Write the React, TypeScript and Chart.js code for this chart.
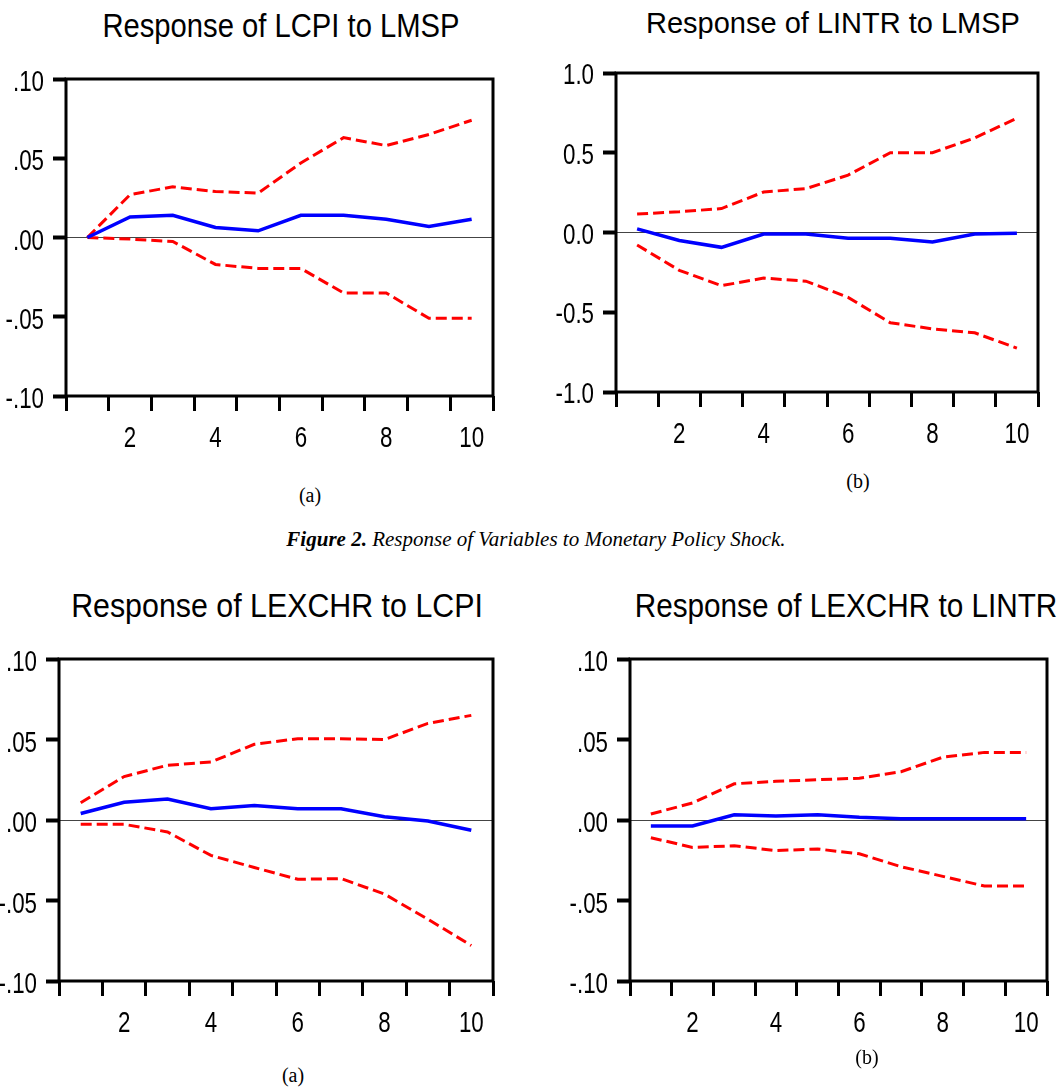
import React, { useEffect, useRef } from 'react';
import { Chart, registerables } from 'chart.js';

Chart.register(...registerables);

// ---------- data ----------
const periods = [1, 2, 3, 4, 5, 6, 7, 8, 9, 10];
const xTickLabels = ['2', '4', '6', '8', '10'];
const yTicksSmall = ['.10', '.05', '.00', '-.05', '-.10'];
const yTicksLarge = ['1.0', '0.5', '0.0', '-0.5', '-1.0'];

// Response of LCPI to LMSP
const lcpiLmspResp = [0, 0.013, 0.014, 0.0063, 0.0042, 0.014, 0.014, 0.0115, 0.007, 0.0115];
const lcpiLmspUpper = [0, 0.027, 0.032, 0.029, 0.028, 0.047, 0.063, 0.058, 0.065, 0.074];
const lcpiLmspLower = [0, -0.001, -0.0025, -0.017, -0.0195, -0.0195, -0.035, -0.035, -0.051, -0.051];

// Response of LINTR to LMSP
const lintrLmspResp = [0.023, -0.05, -0.093, -0.01, -0.01, -0.036, -0.036, -0.06, -0.01, -0.005];
const lintrLmspUpper = [0.116, 0.13, 0.15, 0.254, 0.275, 0.36, 0.5, 0.5, 0.593, 0.716];
const lintrLmspLower = [-0.078, -0.237, -0.333, -0.286, -0.305, -0.407, -0.566, -0.604, -0.629, -0.725];

// Response of LEXCHR to LCPI
const lexchrLcpiResp = [0.004, 0.011, 0.013, 0.007, 0.009, 0.007, 0.007, 0.002, -0.0006, -0.0064];
const lexchrLcpiUpper = [0.0107, 0.027, 0.034, 0.036, 0.047, 0.0505, 0.0505, 0.05, 0.06, 0.065];
const lexchrLcpiLower = [-0.0027, -0.0027, -0.0074, -0.022, -0.0295, -0.0368, -0.0364, -0.046, -0.0616, -0.078];

// Response of LEXCHR to LINTR
const lexchrLintrResp = [-0.0037, -0.0037, 0.0033, 0.0025, 0.0033, 0.0017, 0.0008, 0.0008, 0.0008, 0.0008];
const lexchrLintrUpper = [0.0037, 0.0106, 0.0225, 0.024, 0.025, 0.026, 0.03, 0.039, 0.042, 0.042];
const lexchrLintrLower = [-0.011, -0.017, -0.016, -0.019, -0.018, -0.021, -0.029, -0.035, -0.041, -0.041];

const titles = [
  'Response of LCPI to LMSP',
  'Response of LINTR to LMSP',
  'Response of LEXCHR to LCPI',
  'Response of LEXCHR to LINTR',
];

// ---------- styling ----------
const SANS = '"Liberation Sans", Arial, sans-serif';
const SERIF = '"Liberation Serif", "Times New Roman", serif';
const TICK_SIZE = 29;
const TICK_SX = 0.77;
const X_TICK_LEN = 15;
const X_TICK_PAD = 13;
const Y_TICK_LEN = 13;
const Y_TICK_PAD = 9;

const framePlugin = {
  id: 'frame',
  afterDatasetsDraw(chart: any) {
    const { ctx, chartArea } = chart;
    ctx.save();
    ctx.strokeStyle = '#000';
    ctx.lineWidth = 3;
    ctx.strokeRect(chartArea.left, chartArea.top, chartArea.right - chartArea.left, chartArea.bottom - chartArea.top);
    ctx.restore();
  },
};

// draws the tick labels horizontally condensed (the original uses a narrow face)
const condensedTicksPlugin = {
  id: 'condensedTicks',
  afterDraw(chart: any, _args: any, opts: any) {
    const { ctx, chartArea } = chart;
    ctx.save();
    ctx.fillStyle = '#000';
    ctx.font = `${TICK_SIZE}px ${SANS}`;
    const xs = chart.scales.x;
    ctx.textAlign = 'center';
    ctx.textBaseline = 'middle';
    xs.ticks.forEach((t: any, i: number) => {
      if (!t.label) return;
      const px = xs.getPixelForTick(i);
      const py = chartArea.bottom + X_TICK_LEN + X_TICK_PAD + TICK_SIZE / 2;
      ctx.save();
      ctx.translate(px, py);
      ctx.scale(TICK_SX, 1);
      ctx.fillText(String(t.label), 0, 0);
      ctx.restore();
    });
    const ys = chart.scales.y;
    ctx.textAlign = 'right';
    ys.ticks.forEach((t: any, i: number) => {
      if (!t.label) return;
      const py = ys.getPixelForTick(i) + (opts.labelOffset || 0);
      const px = chartArea.left - Y_TICK_LEN - Y_TICK_PAD;
      ctx.save();
      ctx.translate(px, py);
      ctx.scale(TICK_SX, 1);
      ctx.fillText(String(t.label), 0, 0);
      ctx.restore();
    });
    ctx.restore();
  },
};

type PanelProps = {
  left: number; top: number; width: number; height: number;
  frame: { l: number; t: number; r: number; b: number };
  resp: number[]; upper: number[]; lower: number[];
  yMax: number; yStep: number; yLabels: string[]; labelOffset: number;
};

function Panel(p: PanelProps) {
  const ref = useRef<HTMLCanvasElement>(null);
  useEffect(() => {
    const yAxisW = p.frame.l - p.left;
    const padTop = p.frame.t - p.top;
    const padRight = p.left + p.width - p.frame.r;
    const xAxisH = p.top + p.height - p.frame.b;
    const tickFont = { family: SANS, size: 20, lineHeight: 1 };
    const mk = (arr: number[]) => periods.map((x, i) => ({ x, y: arr[i] }));
    const chart = new Chart(ref.current as HTMLCanvasElement, {
      type: 'line',
      data: {
        datasets: [
          { data: mk(p.resp), borderColor: '#0000ff', borderWidth: 3.5, pointRadius: 0, tension: 0, fill: false },
          { data: mk(p.upper), borderColor: '#ff0000', borderWidth: 3, borderDash: [11, 5], pointRadius: 0, tension: 0, fill: false },
          { data: mk(p.lower), borderColor: '#ff0000', borderWidth: 3, borderDash: [11, 5], pointRadius: 0, tension: 0, fill: false },
        ],
      },
      options: {
        responsive: false,
        animation: false,
        layout: { padding: { top: padTop, right: padRight, left: 0, bottom: 0 } },
        plugins: {
          legend: { display: false },
          tooltip: { enabled: false },
          condensedTicks: { labelOffset: p.labelOffset },
        },
        scales: {
          x: {
            type: 'linear',
            min: 0.5,
            max: 10.5,
            afterFit: (s: any) => { s.height = xAxisH; },
            ticks: {
              stepSize: 0.5,
              autoSkip: false,
              maxRotation: 0,
              minRotation: 0,
              color: 'rgba(0,0,0,0)',
              font: tickFont,
              padding: X_TICK_PAD,
              callback: (v: any) => {
                const n = Number(v);
                if (Math.abs(n - Math.round(n)) > 1e-6) return '';
                const s = String(Math.round(n));
                return xTickLabels.includes(s) ? s : '';
              },
            },
            grid: {
              drawOnChartArea: false,
              drawTicks: true,
              tickLength: X_TICK_LEN,
              tickWidth: 3,
              tickColor: (c: any) => {
                const v = c.tick ? c.tick.value : 0;
                return Math.abs(v - Math.round(v)) > 0.25 ? '#000' : 'rgba(0,0,0,0)';
              },
            },
            border: { display: false },
          },
          y: {
            min: -p.yMax,
            max: p.yMax,
            afterFit: (s: any) => { s.width = yAxisW; },
            ticks: {
              stepSize: p.yStep,
              color: 'rgba(0,0,0,0)',
              font: tickFont,
              padding: Y_TICK_PAD,
              callback: (_v: any, i: number, ticks: any[]) => p.yLabels[ticks.length - 1 - i] ?? '',
            },
            grid: {
              drawOnChartArea: true,
              color: (c: any) => (c.tick && Math.abs(c.tick.value) < 1e-9 ? '#444' : 'rgba(0,0,0,0)'),
              lineWidth: 1,
              drawTicks: true,
              tickLength: Y_TICK_LEN,
              tickWidth: 4,
              tickColor: '#000',
            },
            border: { display: false },
          },
        },
      } as any,
      plugins: [framePlugin, condensedTicksPlugin],
    });
    return () => chart.destroy();
  }, []);
  return (
    <canvas
      ref={ref}
      width={p.width}
      height={p.height}
      style={{ position: 'absolute', left: p.left, top: p.top, width: p.width, height: p.height }}
    />
  );
}

function Title(props: { text: string; cx: number; capTop: number; size: number; sx: number }) {
  return (
    <div
      style={{
        position: 'absolute',
        left: props.cx,
        top: props.capTop - 0.13 * props.size,
        fontFamily: SANS,
        fontSize: props.size,
        lineHeight: 1,
        whiteSpace: 'nowrap',
        color: '#000',
        transform: `translateX(-50%) scaleX(${props.sx})`,
      }}
    >
      {props.text}
    </div>
  );
}

function Sub(props: { text: string; cx: number; cy: number }) {
  return (
    <div
      style={{
        position: 'absolute',
        left: props.cx,
        top: props.cy - 11,
        fontFamily: SERIF,
        fontSize: 20,
        lineHeight: '22px',
        whiteSpace: 'nowrap',
        color: '#000',
        transform: 'translateX(-50%)',
      }}
    >
      {props.text}
    </div>
  );
}

export default function App() {
  return (
    <div style={{ position: 'absolute', left: 0, top: 0, width: 1060, height: 1088, background: '#fff', overflow: 'hidden' }}>
      <Title text={titles[0]} cx={281} capTop={13} size={33} sx={0.885} />
      <Title text={titles[1]} cx={833} capTop={13} size={29} sx={1.0} />
      <Title text={titles[2]} cx={277} capTop={593} size={33} sx={0.92} />
      <Title text={titles[3]} cx={846} capTop={593} size={33} sx={0.9} />

      <Panel left={0} top={60} width={520} height={400} frame={{ l: 66, t: 76, r: 493, b: 396 }}
        resp={lcpiLmspResp} upper={lcpiLmspUpper} lower={lcpiLmspLower}
        yMax={0.1} yStep={0.05} yLabels={yTicksSmall} labelOffset={4} />
      <Panel left={530} top={50} width={530} height={400} frame={{ l: 616, t: 73, r: 1038, b: 392 }}
        resp={lintrLmspResp} upper={lintrLmspUpper} lower={lintrLmspLower}
        yMax={1.0} yStep={0.5} yLabels={yTicksLarge} labelOffset={3} />
      <Panel left={0} top={640} width={520} height={410} frame={{ l: 59, t: 656, r: 493, b: 981 }}
        resp={lexchrLcpiResp} upper={lexchrLcpiUpper} lower={lexchrLcpiLower}
        yMax={0.1} yStep={0.05} yLabels={yTicksSmall} labelOffset={4} />
      <Panel left={540} top={640} width={520} height={410} frame={{ l: 630, t: 658, r: 1058, b: 981 }}
        resp={lexchrLintrResp} upper={lexchrLintrUpper} lower={lexchrLintrLower}
        yMax={0.1} yStep={0.05} yLabels={yTicksSmall} labelOffset={4} />

      <Sub text="(a)" cx={310} cy={495} />
      <Sub text="(b)" cx={858} cy={481} />
      <div
        style={{
          position: 'absolute',
          left: 536,
          top: 528,
          fontFamily: SERIF,
          fontSize: 21,
          lineHeight: '22px',
          fontStyle: 'italic',
          whiteSpace: 'nowrap',
          color: '#000',
          transform: 'translateX(-50%)',
        }}
      >
        <b>Figure 2.</b> Response of Variables to Monetary Policy Shock.
      </div>
      <Sub text="(a)" cx={293} cy={1075} />
      <Sub text="(b)" cx={867} cy={1057} />
    </div>
  );
}
